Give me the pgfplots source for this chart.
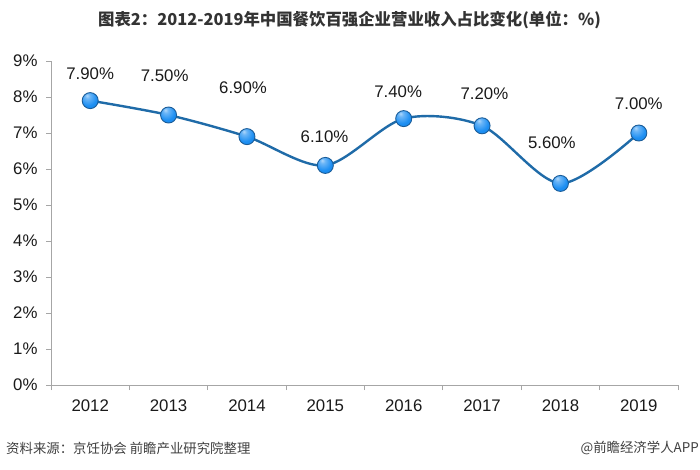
\documentclass[border=0pt]{standalone}
\usepackage{fontspec}
\setmainfont{Liberation Sans}
\newfontfamily\cjk{Noto Sans CJK SC}
\usepackage{pgfplots}
\pgfplotsset{compat=1.18}
\definecolor{axisgray}{HTML}{A6A6A6}
\definecolor{linecol}{HTML}{1F6BA8}
\definecolor{markcol}{HTML}{1C8EF2}
\definecolor{markedge}{HTML}{1A5C98}
\definecolor{txt}{HTML}{1A1A1A}
\definecolor{titlecol}{HTML}{333333}
\definecolor{footcol}{HTML}{404040}
\pgfdeclareradialshading{myballshade}{\pgfqpoint{-10bp}{16bp}}{%
  color(0bp)=(markcol!35!white);
  color(8bp)=(markcol!65!white);
  color(26bp)=(markcol);
  color(50bp)=(markcol!92!black);
  color(70bp)=(markcol!80!black)}
\pgfdeclareplotmark{myball}{%
  \pgfpathcircle{\pgfpointorigin}{\pgfplotmarksize}%
  \pgfshadepath{myballshade}{0}%
  \pgfusepath{}%
  \pgfpathcircle{\pgfpointorigin}{\pgfplotmarksize}%
  \pgfusepathqstroke}
\begin{document}
\begin{tikzpicture}[x=1pt,y=1pt]
\useasboundingbox (0,0) rectangle (700,469);
\fill[white] (0,0) rectangle (700,469);
\begin{axis}[
  at={(51pt,84pt)}, anchor=south west,
  width=627pt, height=324pt, scale only axis,
  xmin=-0.5, xmax=7.5, ymin=0, ymax=9,
  axis lines=left,
  axis line style={-, draw=axisgray, line width=1pt},
  xtick={0,...,7},
  xticklabels={2012,2013,2014,2015,2016,2017,2018,2019},
  minor xtick={-0.5,0.5,...,7.5},
  major x tick style={draw=none},
  minor x tick style={draw=axisgray, line width=0.8pt},
  minor tick length=5pt,
  ytick={0,...,9},
  yticklabel={\pgfmathprintnumber{\tick}\%},
  y tick style={draw=axisgray, line width=0.8pt},
  major tick length=5pt,
  tick align=outside,
  /pgf/number format/assume math mode=true,
  ticklabel style={font=\fontsize{16.8}{18}\selectfont, text=txt},
  xticklabel style={yshift=-6pt},
  yticklabel style={xshift=-5pt},
  clip=false,
]
\addplot[linecol, line width=2.4pt, smooth, tension=0.5,
  mark=myball, mark size=8pt, mark options={draw=markedge, line width=0.9pt, solid}]
  coordinates {(0,7.9) (1,7.5) (2,6.9) (3,6.1) (4,7.4) (5,7.2) (6,5.6) (7,7.0)};
\begin{scope}[every node/.style={font=\fontsize{16.8}{18}\selectfont, text=txt}]
\node at (axis cs:0,8.64) {7.90\%};
\node at (axis cs:0.95,8.58) {7.50\%};
\node at (axis cs:1.95,8.25) {6.90\%};
\node at (axis cs:2.99,6.89) {6.10\%};
\node at (axis cs:3.93,8.14) {7.40\%};
\node at (axis cs:5.03,8.08) {7.20\%};
\node at (axis cs:5.89,6.72) {5.60\%};
\node at (axis cs:7.0,7.81) {7.00\%};
\end{scope}
\end{axis}
\node[text=titlecol, font=\cjk\bfseries\fontsize{16.4}{18}\selectfont] at (349.5,449) {图表2：2012-2019年中国餐饮百强企业营业收入占比变化(单位：\%)};
\node[anchor=west, text=footcol, font=\cjk\fontsize{13.4}{15}\selectfont, inner sep=0pt] at (6,21) {资料来源：京饪协会 前瞻产业研究院整理};
\node[anchor=east, text=footcol, font=\cjk\fontsize{13.4}{15}\selectfont, inner sep=0pt] at (699,21) {@前瞻经济学人APP};
\end{tikzpicture}
\end{document}
